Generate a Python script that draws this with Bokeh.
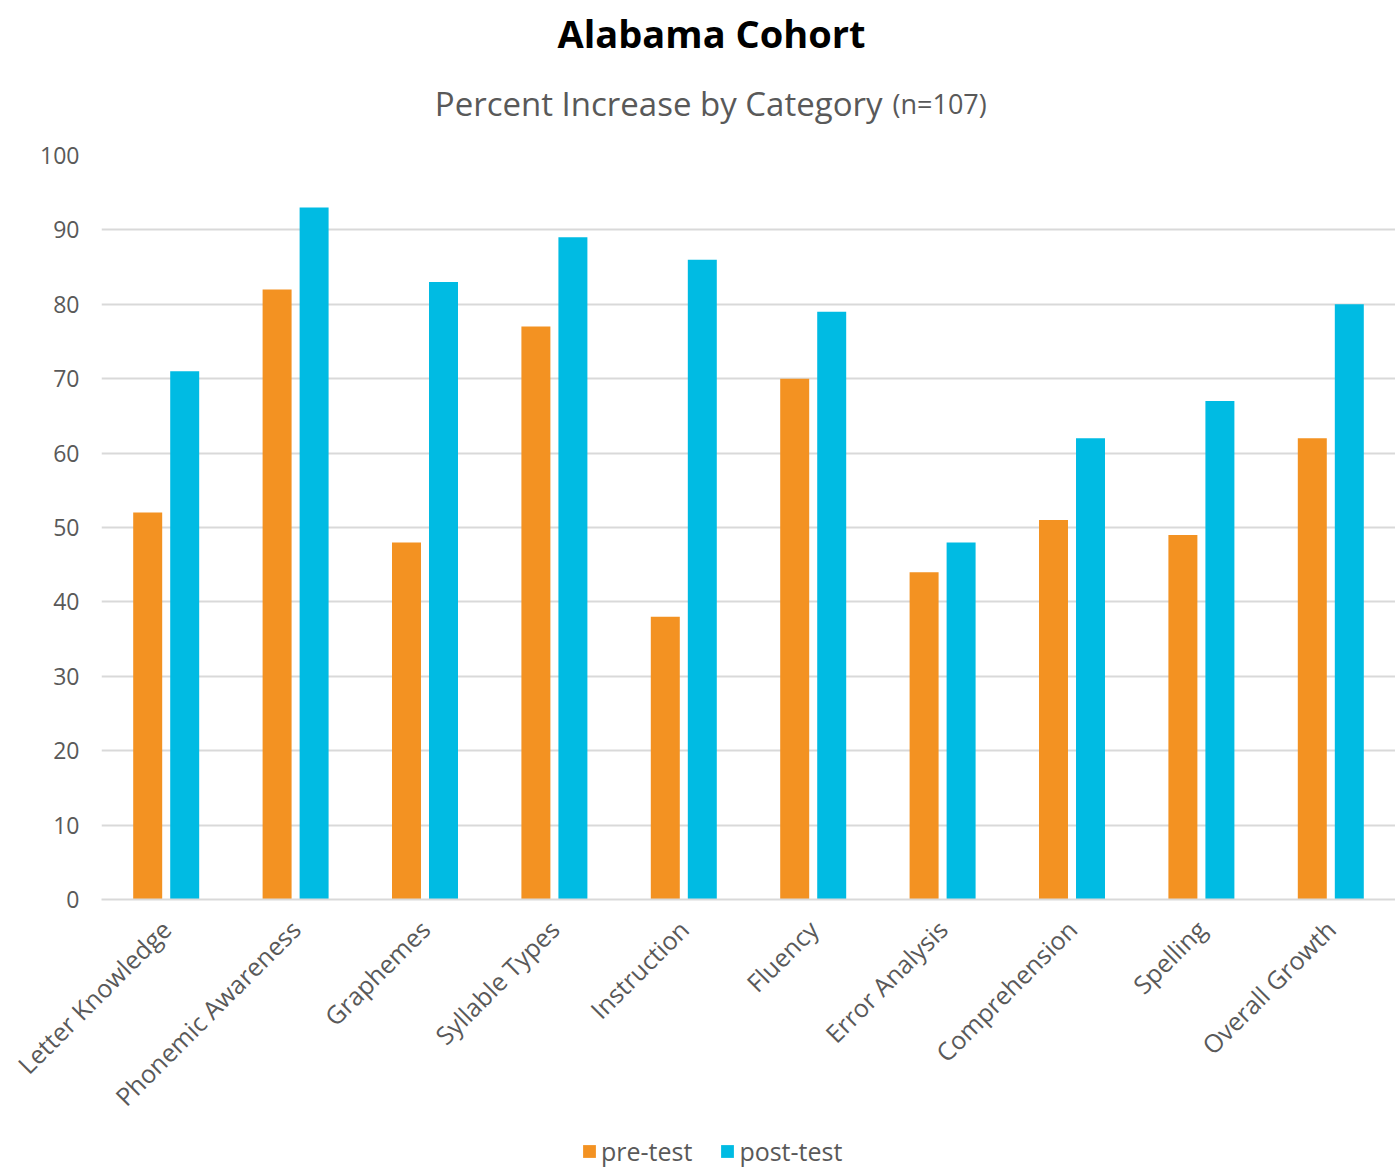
import math
from bokeh.plotting import figure
from bokeh.layouts import column
from bokeh.models import (FactorRange, Range1d, Legend, LegendItem,
                          FixedTicker, ColumnDataSource)
from bokeh.core.properties import value
from bokeh.transform import dodge
from bokeh.embed import file_html
from bokeh.resources import INLINE

categories = ["Letter Knowledge", "Phonemic Awareness", "Graphemes", "Syllable Types",
              "Instruction", "Fluency", "Error Analysis", "Comprehension",
              "Spelling", "Overall Growth"]
pre_test = [52, 82, 48, 77, 38, 70, 44, 51, 49, 62]
post_test = [71, 93, 83, 89, 86, 79, 48, 62, 67, 80]
y_ticks = list(range(0, 101, 10))
series_names = ["pre-test", "post-test"]

title_text = "Alabama Cohort"
subtitle_text = "Percent Increase by Category"
subtitle_note = "(n=107)"

FONT = "Open Sans"
GREY = "#595959"
GRID = "#d9d9d9"
ORANGE = "#F39222"
BLUE = "#00BBE3"
W = 1395
LEFT = 101          # left border (frame starts here on the page)
TITLE_H = 140
LEGEND_H = 40
MAIN_H = 1168 - TITLE_H - LEGEND_H


def strip(height):
    f = figure(width=W, height=height, x_range=Range1d(LEFT, W),
               y_range=Range1d(0, height), x_axis_type=None, y_axis_type=None,
               output_backend="svg", toolbar_location=None,
               min_border_left=LEFT, min_border_right=0,
               min_border_top=0, min_border_bottom=0)
    f.outline_line_color = None
    f.xgrid.visible = False
    f.ygrid.visible = False
    return f


# ---------- title strip (x in page pixels) ----------
pt = strip(TITLE_H)
pt.text(x=[711], y=[TITLE_H - 32], text=[title_text], text_font=value(FONT),
        text_font_size="38px", text_font_style="bold", text_color="black",
        text_align="center", text_baseline="middle")
pt.text(x=[882], y=[TITLE_H - 103], text=[subtitle_text], text_font=value(FONT),
        text_font_size="33px", text_color=GREY, text_align="right",
        text_baseline="middle")
pt.text(x=[892], y=[TITLE_H - 103], text=[subtitle_note], text_font=value(FONT),
        text_font_size="27px", text_color=GREY, text_align="left",
        text_baseline="middle")

# ---------- main chart ----------
p = figure(x_range=FactorRange(*categories), y_range=Range1d(0, 100),
           width=W, height=MAIN_H, output_backend="svg", toolbar_location=None,
           min_border_left=LEFT, min_border_right=0, min_border_top=15,
           min_border_bottom=MAIN_H - 15 - 744)
p.outline_line_color = None

src = ColumnDataSource(dict(cat=categories, pre=pre_test, post=post_test))
p.vbar(x=dodge("cat", -0.143, range=p.x_range), top="pre", width=0.224,
       source=src, fill_color=ORANGE, line_color=None)
p.vbar(x=dodge("cat", 0.143, range=p.x_range), top="post", width=0.224,
       source=src, fill_color=BLUE, line_color=None)

p.xgrid.grid_line_color = None
p.ygrid.grid_line_color = GRID
p.ygrid.grid_line_width = 2
p.yaxis.ticker = FixedTicker(ticks=y_ticks)
p.yaxis.axis_line_color = None
p.yaxis.major_tick_line_color = None
p.yaxis.minor_tick_line_color = None
p.yaxis.major_tick_out = 0
p.yaxis.major_tick_in = 0
p.yaxis.major_label_text_font = FONT
p.yaxis.major_label_text_font_size = "23px"
p.yaxis.major_label_text_color = GREY
p.yaxis.major_label_standoff = 22

p.xaxis.axis_line_color = GRID
p.xaxis.axis_line_width = 2
p.xaxis.major_tick_line_color = None
p.xaxis.minor_tick_line_color = None
p.xaxis.major_tick_out = 0
p.xaxis.major_tick_in = 0
p.xaxis.major_label_orientation = math.pi / 4
p.xaxis.major_label_text_font = FONT
p.xaxis.major_label_text_font_size = "25px"
p.xaxis.major_label_text_color = GREY
p.xaxis.major_label_standoff = 25

# ---------- legend strip ----------
pl = strip(LEGEND_H)
# off-screen stand-in renderers, only used to draw the legend swatches
lr1 = pl.vbar(x=[-1000], top=[0], width=1, fill_color=ORANGE, line_color=None)
lr2 = pl.vbar(x=[-1000], top=[0], width=1, fill_color=BLUE, line_color=None)
legend = Legend(items=[LegendItem(label=series_names[0], renderers=[lr1]),
                       LegendItem(label=series_names[1], renderers=[lr2])],
                orientation="horizontal", location=(581 - LEFT, 0),
                glyph_width=16, glyph_height=16, label_standoff=4, spacing=27,
                padding=0, margin=0, border_line_color=None,
                background_fill_alpha=0, label_text_font=FONT,
                label_text_font_size="25px", label_text_color=GREY,
                label_text_line_height=1.0, label_height=22)
pl.add_layout(legend)

layout = column(pt, p, pl, spacing=0)
open("out.html", "w").write(file_html(layout, INLINE))
